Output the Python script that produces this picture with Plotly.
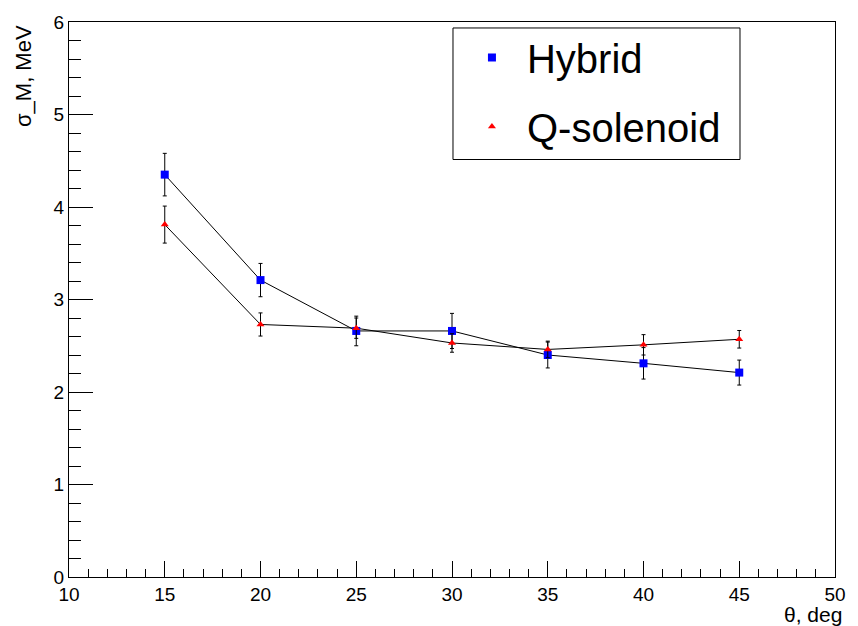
import plotly.graph_objects as go

# Angular points (deg)
theta = [15, 20, 25, 30, 35, 40, 45]

# Mass resolution, MeV
hybrid_sigma = [4.35, 3.21, 2.66, 2.66, 2.40, 2.31, 2.21]
hybrid_err = [0.23, 0.18, 0.16, 0.19, 0.14, 0.17, 0.135]

qsol_sigma = [3.81, 2.73, 2.69, 2.53, 2.46, 2.51, 2.57]
qsol_err = [0.20, 0.125, 0.11, 0.10, 0.09, 0.11, 0.095]

FONT = "Liberation Sans, Arial, Helvetica, sans-serif"

# Plot area in pixels (used for placing the legend box)
W, H = 858, 626
ML, MR, MT, MB = 69, 15, 20, 49
PW, PH = W - ML - MR, H - MT - MB


def px_x(px):
    return (px - ML) / PW


def px_y(py):
    return 1 - (py - MT) / PH


fig = go.Figure()

# Connecting polylines
for ys in (hybrid_sigma, qsol_sigma):
    fig.add_trace(go.Scatter(
        x=theta, y=ys, mode="lines", showlegend=False, hoverinfo="skip",
        line=dict(color="black", width=1),
    ))

# Points with error bars
fig.add_trace(go.Scatter(
    x=theta, y=hybrid_sigma, name="Hybrid", mode="markers",
    marker=dict(symbol="square", color="#0000ff", size=8),
    error_y=dict(type="data", array=hybrid_err, visible=True,
                 color="black", thickness=1, width=2),
    legendgroup="a",
))
fig.add_trace(go.Scatter(
    x=theta, y=qsol_sigma, name="Q-solenoid", mode="markers",
    marker=dict(symbol="triangle-up", color="#ff0000", size=7),
    error_y=dict(type="data", array=qsol_err, visible=True,
                 color="black", thickness=1, width=2),
    legendgroup="b",
))

axis_common = dict(
    showgrid=False, zeroline=False, showline=True, linecolor="black",
    linewidth=1, mirror=True, ticks="inside", tickcolor="black",
    tickwidth=1, tickfont=dict(family=FONT, size=19, color="black"),
)

fig.update_xaxes(
    range=[10, 50], dtick=5, tick0=10, ticklen=16,
    minor=dict(dtick=1, ticks="inside", ticklen=8, tickcolor="black"),
    **axis_common,
)
fig.update_yaxes(
    range=[0, 6], dtick=1, tick0=0, ticklen=24,
    minor=dict(dtick=0.2, ticks="inside", ticklen=12, tickcolor="black"),
    **axis_common,
)

# Axis titles placed at the ends of the axes
fig.add_annotation(
    text="θ, deg", xref="paper", yref="paper", x=1, y=0,
    xanchor="right", yanchor="top", xshift=9, yshift=-24, showarrow=False,
    font=dict(family=FONT, size=21, color="black"),
)
fig.add_annotation(
    text="σ_M, MeV", xref="paper", yref="paper", x=0, y=1,
    xanchor="center", yanchor="top", xshift=-46, yshift=-1,
    textangle=-90, showarrow=False,
    font=dict(family=FONT, size=22, color="black"),
)

# Legend frame
fig.add_shape(
    type="rect", xref="paper", yref="paper",
    x0=px_x(457), x1=px_x(747), y0=px_y(158), y1=px_y(26),
    line=dict(color="black", width=1), fillcolor="white", layer="below",
)

fig.update_layout(
    width=W, height=H,
    margin=dict(l=ML, r=MR, t=MT, b=MB),
    paper_bgcolor="white", plot_bgcolor="white",
    showlegend=True,
    legend=dict(
        x=px_x(461), y=px_y(23),
        xanchor="left", yanchor="top",
        borderwidth=0, bgcolor="rgba(0,0,0,0)",
        font=dict(family=FONT, size=40, color="black"),
        itemwidth=60, tracegroupgap=14,
    ),
)

fig.write_html("out.html")
